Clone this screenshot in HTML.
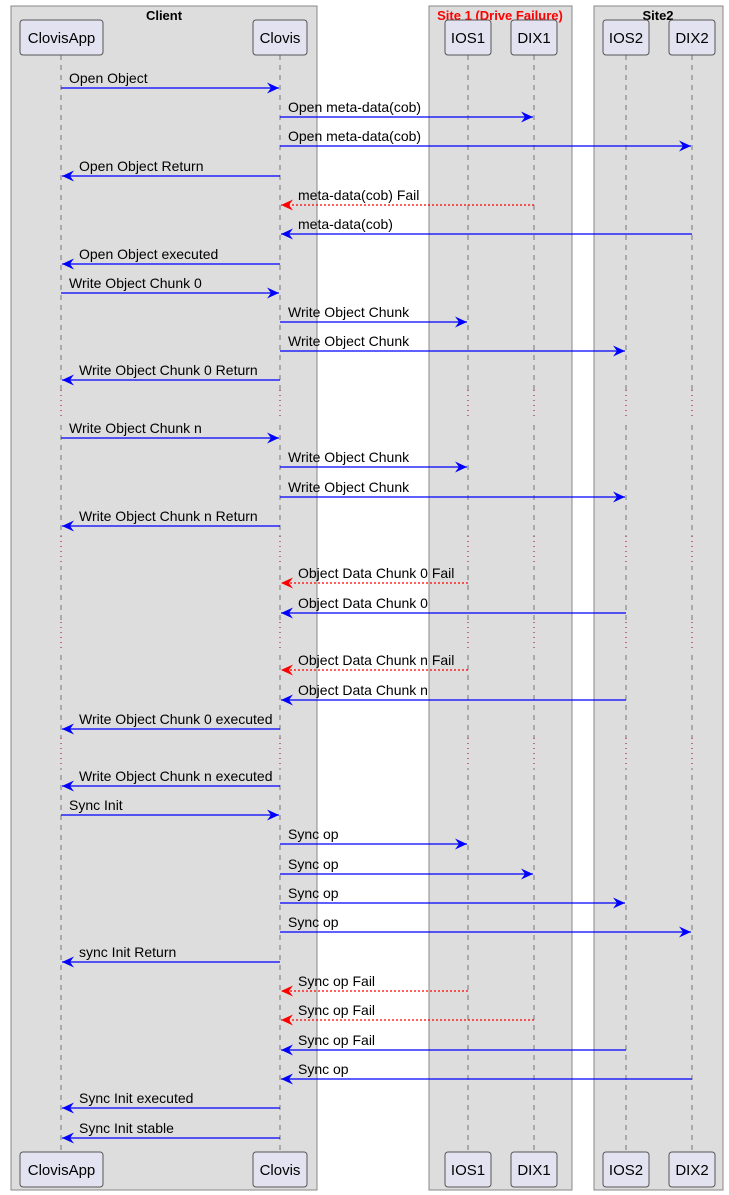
<!DOCTYPE html>
<html><head><meta charset="utf-8"><style>body{margin:0;background:#fff}svg{display:block}</style></head><body>
<svg xmlns="http://www.w3.org/2000/svg" width="729" height="1195" viewBox="0 0 729 1195" font-family="Liberation Sans, sans-serif">
<defs>
<marker id="ab" viewBox="0 0 13 11" refX="12" refY="5.5" markerWidth="13" markerHeight="11" markerUnits="userSpaceOnUse" orient="auto"><path d="M0,0 L12,5.5 L0,11 L4,5.5 Z" fill="#0000ff"/></marker>
<marker id="ar" viewBox="0 0 13 11" refX="12" refY="5.5" markerWidth="13" markerHeight="11" markerUnits="userSpaceOnUse" orient="auto"><path d="M0,0 L12,5.5 L0,11 L4,5.5 Z" fill="#ff0000"/></marker>
</defs>
<rect x="11" y="6" width="306" height="1184" fill="#dddddd" stroke="#888" stroke-width="1"/>
<rect x="429" y="6" width="143" height="1184" fill="#dddddd" stroke="#888" stroke-width="1"/>
<rect x="594" y="6" width="129" height="1184" fill="#dddddd" stroke="#888" stroke-width="1"/>
<g font-weight="bold" font-size="13" text-anchor="middle">
<text x="164" y="20">Client</text>
<text x="500" y="20" fill="#ff0000">Site 1 (Drive Failure)</text>
<text x="658" y="20">Site2</text>
</g>
<g stroke="#777" stroke-dasharray="5,5" stroke-width="1">
<line x1="61" y1="55" x2="61" y2="1152"/><line x1="280" y1="55" x2="280" y2="1152"/>
<line x1="468" y1="55" x2="468" y2="1152"/><line x1="534" y1="55" x2="534" y2="1152"/>
<line x1="626" y1="55" x2="626" y2="1152"/><line x1="692" y1="55" x2="692" y2="1152"/>
</g>
<g stroke="#dddddd" stroke-width="2">
<path d="M61,390V420M280,390V420M468,390V420M534,390V420M626,390V420M692,390V420"/>
<path d="M61,536V566M280,536V566M468,536V566M534,536V566M626,536V566M692,536V566"/>
<path d="M61,622V652M280,622V652M468,622V652M534,622V652M626,622V652M692,622V652"/>
<path d="M61,738V768M280,738V768M468,738V768M534,738V768M626,738V768M692,738V768"/>
</g>
<g stroke="#a00030" stroke-dasharray="1,4" stroke-width="1">
<path d="M61,390V420M280,390V420M468,390V420M534,390V420M626,390V420M692,390V420"/>
<path d="M61,536V566M280,536V566M468,536V566M534,536V566M626,536V566M692,536V566"/>
<path d="M61,622V652M280,622V652M468,622V652M534,622V652M626,622V652M692,622V652"/>
<path d="M61,738V768M280,738V768M468,738V768M534,738V768M626,738V768M692,738V768"/>
</g>
<g fill="#e2e2f0" stroke="#555" stroke-width="1">
<rect x="20" y="20" width="83" height="35" rx="3"/><rect x="253" y="20" width="54" height="35" rx="3"/>
<rect x="445" y="20" width="46" height="35" rx="3"/><rect x="511" y="20" width="46" height="35" rx="3"/>
<rect x="603" y="20" width="46" height="35" rx="3"/><rect x="669" y="20" width="46" height="35" rx="3"/>
<rect x="20" y="1152" width="83" height="35" rx="3"/><rect x="253" y="1152" width="54" height="35" rx="3"/>
<rect x="445" y="1152" width="46" height="35" rx="3"/><rect x="511" y="1152" width="46" height="35" rx="3"/>
<rect x="603" y="1152" width="46" height="35" rx="3"/><rect x="669" y="1152" width="46" height="35" rx="3"/>
</g>
<g font-size="15" text-anchor="middle">
<text x="61.5" y="43">ClovisApp</text><text x="280" y="43">Clovis</text><text x="468" y="43">IOS1</text><text x="534" y="43">DIX1</text><text x="626" y="43">IOS2</text><text x="692" y="43">DIX2</text>
<text x="61.5" y="1175">ClovisApp</text><text x="280" y="1175">Clovis</text><text x="468" y="1175">IOS1</text><text x="534" y="1175">DIX1</text><text x="626" y="1175">IOS2</text><text x="692" y="1175">DIX2</text>
</g>
<g font-size="14" stroke-width="1.2">
<g stroke="#0000ff" marker-end="url(#ab)">
<line x1="61" y1="88" x2="279" y2="88"/>
<line x1="280" y1="117" x2="533" y2="117"/>
<line x1="280" y1="146" x2="691" y2="146"/>
<line x1="61" y1="293" x2="279" y2="293"/>
<line x1="280" y1="322" x2="467" y2="322"/>
<line x1="280" y1="351" x2="625" y2="351"/>
<line x1="61" y1="438" x2="279" y2="438"/>
<line x1="280" y1="467" x2="467" y2="467"/>
<line x1="280" y1="497" x2="625" y2="497"/>
<line x1="61" y1="815" x2="279" y2="815"/>
<line x1="280" y1="844" x2="467" y2="844"/>
<line x1="280" y1="874" x2="533" y2="874"/>
<line x1="280" y1="903" x2="625" y2="903"/>
<line x1="280" y1="932" x2="691" y2="932"/>
<line x1="280" y1="176" x2="62" y2="176"/>
<line x1="692" y1="234" x2="281" y2="234"/>
<line x1="280" y1="264" x2="62" y2="264"/>
<line x1="280" y1="380" x2="62" y2="380"/>
<line x1="280" y1="526" x2="62" y2="526"/>
<line x1="626" y1="613" x2="281" y2="613"/>
<line x1="626" y1="700" x2="281" y2="700"/>
<line x1="280" y1="729" x2="62" y2="729"/>
<line x1="280" y1="786" x2="62" y2="786"/>
<line x1="280" y1="962" x2="62" y2="962"/>
<line x1="626" y1="1050" x2="281" y2="1050"/>
<line x1="692" y1="1079" x2="281" y2="1079"/>
<line x1="280" y1="1108" x2="62" y2="1108"/>
<line x1="280" y1="1138" x2="62" y2="1138"/>
</g>
<g stroke="#ff0000" stroke-dasharray="2,2" marker-end="url(#ar)">
<line x1="534" y1="205" x2="281" y2="205"/>
<line x1="468" y1="583" x2="281" y2="583"/>
<line x1="468" y1="670" x2="281" y2="670"/>
<line x1="468" y1="991" x2="281" y2="991"/>
<line x1="534" y1="1020" x2="281" y2="1020"/>
</g>
<g fill="#000">
<text x="69" y="83">Open Object</text>
<text x="288" y="112">Open meta-data(cob)</text>
<text x="288" y="141">Open meta-data(cob)</text>
<text x="79" y="171">Open Object Return</text>
<text x="298" y="200">meta-data(cob) Fail</text>
<text x="298" y="229">meta-data(cob)</text>
<text x="79" y="259">Open Object executed</text>
<text x="69" y="288">Write Object Chunk 0</text>
<text x="288" y="317">Write Object Chunk</text>
<text x="288" y="346">Write Object Chunk</text>
<text x="79" y="375">Write Object Chunk 0 Return</text>
<text x="69" y="433">Write Object Chunk n</text>
<text x="288" y="462">Write Object Chunk</text>
<text x="288" y="492">Write Object Chunk</text>
<text x="79" y="521">Write Object Chunk n Return</text>
<text x="298" y="578">Object Data Chunk 0 Fail</text>
<text x="298" y="608">Object Data Chunk 0</text>
<text x="298" y="665">Object Data Chunk n Fail</text>
<text x="298" y="695">Object Data Chunk n</text>
<text x="79" y="724">Write Object Chunk 0 executed</text>
<text x="79" y="781">Write Object Chunk n executed</text>
<text x="69" y="810">Sync Init</text>
<text x="288" y="839">Sync op</text>
<text x="288" y="869">Sync op</text>
<text x="288" y="898">Sync op</text>
<text x="288" y="927">Sync op</text>
<text x="79" y="957">sync Init Return</text>
<text x="298" y="986">Sync op Fail</text>
<text x="298" y="1015">Sync op Fail</text>
<text x="298" y="1045">Sync op Fail</text>
<text x="298" y="1074">Sync op</text>
<text x="79" y="1103">Sync Init executed</text>
<text x="79" y="1133">Sync Init stable</text>
</g>
</g>
</svg>
</body></html>
